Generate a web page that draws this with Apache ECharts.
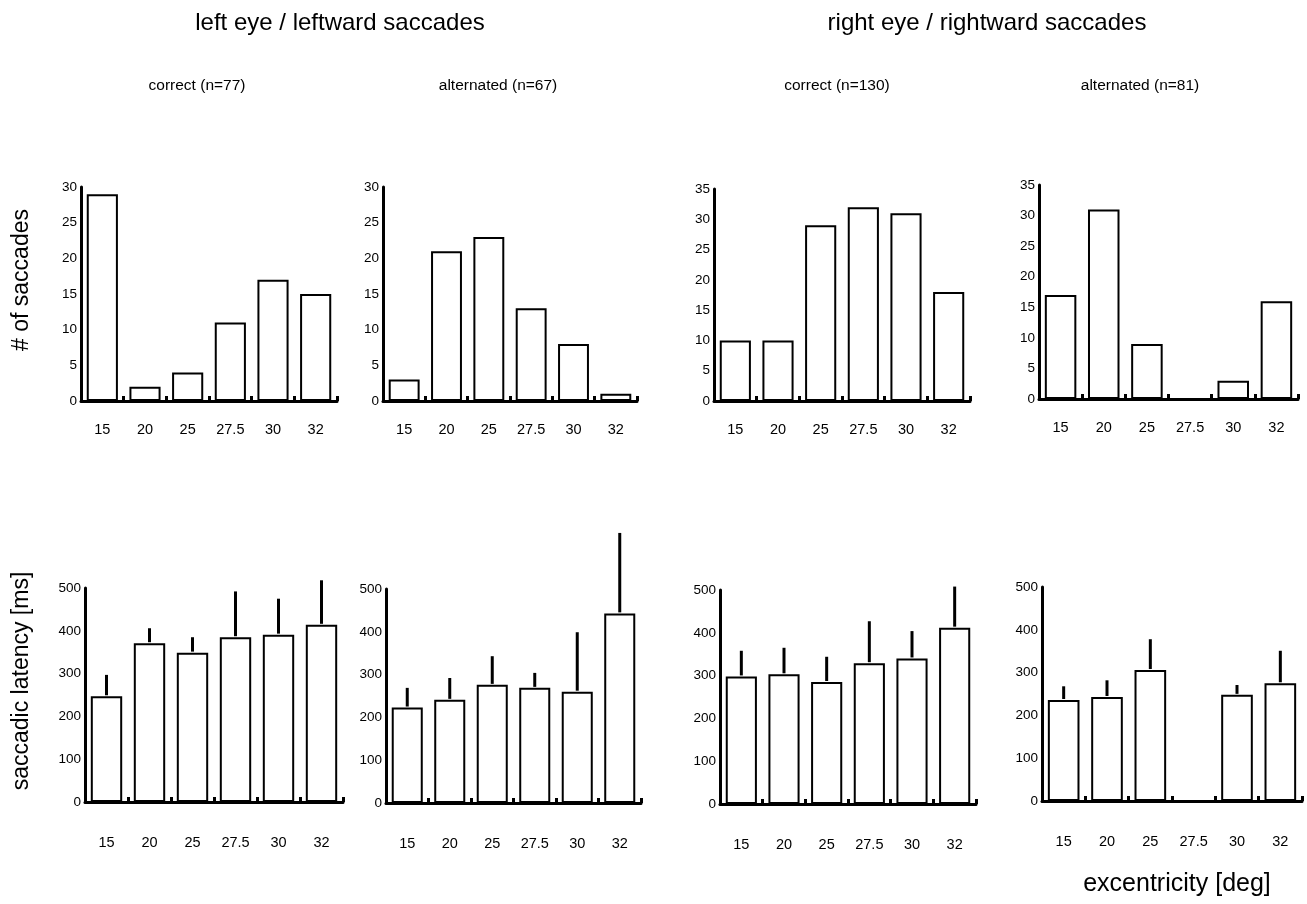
<!DOCTYPE html>
<html><head><meta charset="utf-8">
<script src="https://cdn.jsdelivr.net/npm/echarts@6/dist/echarts.min.js"></script>
<style>html,body{margin:0;padding:0;background:#fff}#c{width:1307px;height:904px}</style>
</head><body><div id="c"></div>
<script>
var categories = ['15', '20', '25', '27.5', '30', '32'];
// # of saccades
var countLeftCorrect = [29, 2, 4, 11, 17, 15];
var countLeftAlternated = [3, 21, 23, 13, 8, 1];
var countRightCorrect = [10, 10, 29, 32, 31, 18];
var countRightAlternated = [17, 31, 9, 0, 3, 16];
// saccadic latency means [ms]
var latLeftCorrect = [247, 371, 349, 385, 391, 414];
var latLeftAlternated = [223, 241, 276, 269, 260, 443];
var latRightCorrect = [298, 303, 285, 329, 340, 412];
var latRightAlternated = [236, 243, 306, null, 248, 275];
// upper end of error bars [ms]
var errLeftCorrect = [297, 406, 385, 492, 475, 518];
var errLeftAlternated = [269, 292, 343, 304, 399, 631];
var errRightCorrect = [358, 365, 344, 427, 404, 508];
var errRightAlternated = [268, 282, 378, null, 271, 351];

var panelTitles = ['correct (n=77)', 'alternated (n=67)', 'correct (n=130)', 'alternated (n=81)'];
var groupTitles = ['left eye / leftward saccades', 'right eye / rightward saccades'];

var FONT = '"Liberation Sans", Arial, Helvetica, sans-serif';

var topPanels = [
  {left: 81, width: 256, top: 187, height: 214, max: 30, data: countLeftCorrect},
  {left: 383, width: 254, top: 187, height: 214, max: 30, data: countLeftAlternated},
  {left: 714, width: 256, top: 189, height: 212, max: 35, data: countRightCorrect},
  {left: 1039, width: 259, top: 185, height: 214, max: 35, data: countRightAlternated}
];
var botPanels = [
  {left: 85, width: 258, top: 588, height: 214, data: latLeftCorrect, err: errLeftCorrect},
  {left: 386, width: 255, top: 589, height: 214, data: latLeftAlternated, err: errLeftAlternated},
  {left: 720, width: 256, top: 590, height: 214, data: latRightCorrect, err: errRightCorrect},
  {left: 1042, width: 260, top: 587, height: 214, data: latRightAlternated, err: errRightAlternated}
];

var grid = [], xAxis = [], yAxis = [], series = [];

function addAxes(p, idx, max, interval, labelMargin) {
  grid.push({left: p.left, top: p.top, width: p.width, height: p.height, containLabel: false});
  xAxis.push({
    type: 'category', gridIndex: idx, data: categories,
    axisLine: {lineStyle: {color: '#000', width: 3}},
    axisTick: {show: true, inside: true, length: 5, interval: 0, lineStyle: {color: '#000', width: 3}},
    axisLabel: {color: '#000', fontSize: 14.5, fontFamily: FONT, margin: labelMargin, interval: 0},
    splitLine: {show: false}
  });
  yAxis.push({
    type: 'value', gridIndex: idx, min: 0, max: max, interval: interval,
    axisLine: {show: true, lineStyle: {color: '#000', width: 3}},
    axisTick: {show: false},
    axisLabel: {color: '#000', fontSize: 13.5, fontFamily: FONT, margin: 4},
    splitLine: {show: false}
  });
}

var barStyle = {color: '#fff', borderColor: '#000', borderWidth: 2};

topPanels.forEach(function (p, i) {
  addAxes(p, i, p.max, 5, 21);
  series.push({
    type: 'bar', xAxisIndex: i, yAxisIndex: i, data: p.data, barWidth: '73%',
    itemStyle: barStyle, silent: true, animation: false
  });
});

botPanels.forEach(function (p, j) {
  var i = j + 4;
  addAxes(p, i, 500, 100, 33);
  series.push({
    type: 'bar', xAxisIndex: i, yAxisIndex: i, data: p.data, barWidth: '73%',
    itemStyle: barStyle, silent: true, animation: false
  });
  var errData = p.data.map(function (v, k) { return [k, v, p.err[k]]; })
    .filter(function (d) { return d[1] != null; });
  series.push({
    type: 'custom', xAxisIndex: i, yAxisIndex: i, data: errData, clip: false,
    silent: true, animation: false,
    renderItem: function (params, api) {
      var a = api.coord([api.value(0), api.value(1)]);
      var b = api.coord([api.value(0), api.value(2)]);
      return {type: 'line', shape: {x1: a[0], y1: a[1] - 1, x2: b[0], y2: b[1]},
        style: {stroke: '#000', lineWidth: 3}};
    },
    encode: {x: 0, y: [1, 2]}
  });
});

var graphic = [
  {type: 'text', x: 22, y: 280, rotation: Math.PI / 2,
   style: {text: '# of saccades', fontSize: 23, fontFamily: FONT, fill: '#000', align: 'center', verticalAlign: 'middle'}},
  {type: 'text', x: 22, y: 681, rotation: Math.PI / 2,
   style: {text: 'saccadic latency [ms]', fontSize: 23, fontFamily: FONT, fill: '#000', align: 'center', verticalAlign: 'middle'}},
  {type: 'text', x: 1177, y: 884,
   style: {text: 'excentricity [deg]', fontSize: 25, fontFamily: FONT, fill: '#000', align: 'center', verticalAlign: 'middle'}},
  {type: 'text', x: 340, y: 23,
   style: {text: groupTitles[0], fontSize: 24, fontFamily: FONT, fill: '#000', align: 'center', verticalAlign: 'middle'}},
  {type: 'text', x: 987, y: 23,
   style: {text: groupTitles[1], fontSize: 24, fontFamily: FONT, fill: '#000', align: 'center', verticalAlign: 'middle'}}
];
var subX = [197, 498, 837, 1140];
panelTitles.forEach(function (t, i) {
  graphic.push({type: 'text', x: subX[i], y: 86,
    style: {text: t, fontSize: 15.5, fontFamily: FONT, fill: '#000', align: 'center', verticalAlign: 'middle'}});
});

var chart = echarts.init(document.getElementById('c'), null, {renderer: 'canvas'});
chart.setOption({
  backgroundColor: '#fff', animation: false,
  grid: grid, xAxis: xAxis, yAxis: yAxis, series: series, graphic: graphic
});
</script></body></html>
